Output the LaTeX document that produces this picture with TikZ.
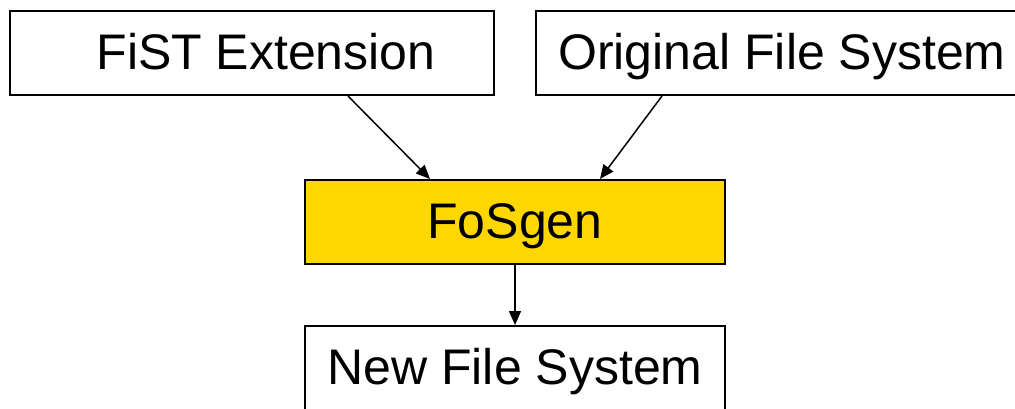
\documentclass[tikz,border=0pt]{standalone}
\usepackage{fontspec}
\setmainfont{Liberation Sans}
\usetikzlibrary{arrows.meta}
\definecolor{fosgold}{HTML}{FFD700}
\begin{document}
\begin{tikzpicture}[x=0.5pt, y=-0.5pt,
        box/.style={draw=black, line width=1pt, minimum height=42pt, font=\fontsize{25}{30}\selectfont, text height=1.78em, text depth=0.14em, inner sep=0pt},
        flow/.style={-{Triangle[length=7pt, width=6pt]}, line width=0.75pt}]
    \useasboundingbox (0, 0) rectangle (1015, 408);
    \node[box, minimum width=242pt] (fist) at (252, 53) {\hspace*{14pt}FiST Extension};
    \node[box, minimum width=246pt] (orig) at (782, 53) {Original File System};
    \node[box, fill=fosgold, minimum width=210pt] (fosgen) at (515, 222) {FoSgen};
    \node[box, minimum width=210pt] (newfs) at (515, 368) {New File System};
    \draw[flow] ([xshift=48pt]fist.south) -- ([xshift=-42.5pt]fosgen.north);
    \draw[flow] ([xshift=-60pt]orig.south) -- ([xshift=42.5pt]fosgen.north);
    \draw[flow] (fosgen.south) -- (newfs.north);
\end{tikzpicture}
\end{document}
